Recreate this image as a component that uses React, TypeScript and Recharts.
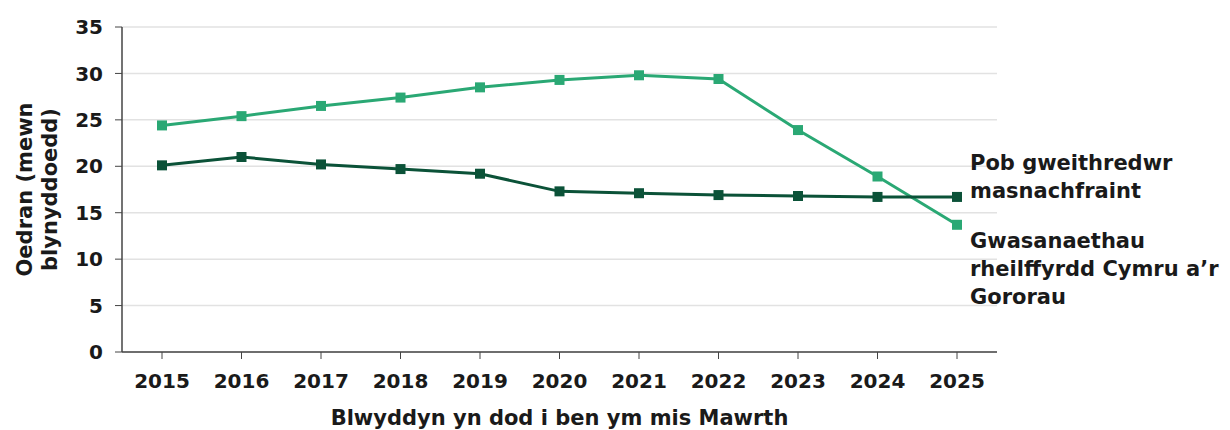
import React from "react";
import { LineChart, Line, XAxis, YAxis, CartesianGrid, Label } from "recharts";

const years = ["2015", "2016", "2017", "2018", "2019", "2020", "2021", "2022", "2023", "2024", "2025"];
const walesBorders = [24.4, 25.4, 26.5, 27.4, 28.5, 29.3, 29.8, 29.4, 23.9, 18.9, 13.7];
const allOperators = [20.1, 21.0, 20.2, 19.7, 19.2, 17.3, 17.1, 16.9, 16.8, 16.7, 16.7];
const yTicks = [0, 5, 10, 15, 20, 25, 30, 35];

const data = years.map((y, i) => ({ year: y, wales: walesBorders[i], all: allOperators[i] }));

const FONT = "'DejaVu Sans', 'Open Sans', sans-serif";
const TEXT = "#1a1a1a";
const LIGHT = "#2aa874";
const DARK = "#0b5238";

const squareDot = (color: string) => (props: any) => {
  const { cx, cy, index } = props;
  if (cx == null || cy == null) return null;
  return <rect key={index} x={cx - 5} y={cy - 5} width={10} height={10} fill={color} />;
};

const endLabel = (lines: string[], dy0: number) => (props: any) => {
  const { x, y, index } = props;
  if (index !== years.length - 1) return null;
  return (
    <text x={x + 13} y={y + dy0} fill={TEXT} fontFamily={FONT} fontWeight={700} fontSize={21}>
      {lines.map((l, i) => (
        <tspan key={i} x={x + 13} dy={i === 0 ? 0 : 28}>
          {l}
        </tspan>
      ))}
    </text>
  );
};

const YTitle = (props: any) => {
  const vb = props.viewBox || {};
  const cy = vb.y + vb.height / 2;
  return (
    <text
      transform={`translate(39, ${cy}) rotate(-90)`}
      textAnchor="middle"
      fill={TEXT}
      fontFamily={FONT}
      fontWeight={700}
      fontSize={21}
    >
      <tspan x={0} dy={-7}>Oedran (mewn</tspan>
      <tspan x={0} dy={25}>blynyddoedd)</tspan>
    </text>
  );
};

export default function App() {
  return (
    <div style={{ position: "absolute", left: 0, top: 0, width: 1230, height: 430, background: "#fff" }}>
      <LineChart width={1230} height={430} data={data} margin={{ top: 27, right: 233, bottom: 36, left: 62 }}>
        <CartesianGrid vertical={false} stroke="#e2e2e2" strokeWidth={1.5} />
        <XAxis
          dataKey="year"
          padding={{ left: 40, right: 40 }}
          tick={{ fill: TEXT, fontFamily: FONT, fontWeight: 700, fontSize: 20 }}
          axisLine={{ stroke: "#444", strokeWidth: 1.5 }}
          tickLine={{ stroke: "#444" }}
          tickSize={7}
          tickMargin={15}
          height={42}
        >
          <Label
            value="Blwyddyn yn dod i ben ym mis Mawrth"
            position="insideBottom"
            offset={-31}
            fill={TEXT}
            fontFamily={FONT}
            fontWeight={700}
            fontSize={21}
          />
        </XAxis>
        <YAxis
          domain={[0, 35]}
          ticks={yTicks}
          interval={0}
          width={60}
          tick={{ fill: TEXT, fontFamily: FONT, fontWeight: 700, fontSize: 20 }}
          axisLine={{ stroke: "#444", strokeWidth: 1.5 }}
          tickLine={{ stroke: "#444" }}
          tickSize={7}
          tickMargin={12}
        >
          <Label content={<YTitle />} />
        </YAxis>
        <Line
          dataKey="wales"
          stroke={LIGHT}
          strokeWidth={3}
          dot={squareDot(LIGHT)}
          isAnimationActive={false}
          label={endLabel(["Gwasanaethau", "rheilffyrdd Cymru a’r", "Gororau"], 23)}
          activeDot={false}
        />
        <Line
          dataKey="all"
          stroke={DARK}
          strokeWidth={3}
          dot={squareDot(DARK)}
          isAnimationActive={false}
          label={endLabel(["Pob gweithredwr", "masnachfraint"], -27)}
          activeDot={false}
        />
      </LineChart>
    </div>
  );
}
